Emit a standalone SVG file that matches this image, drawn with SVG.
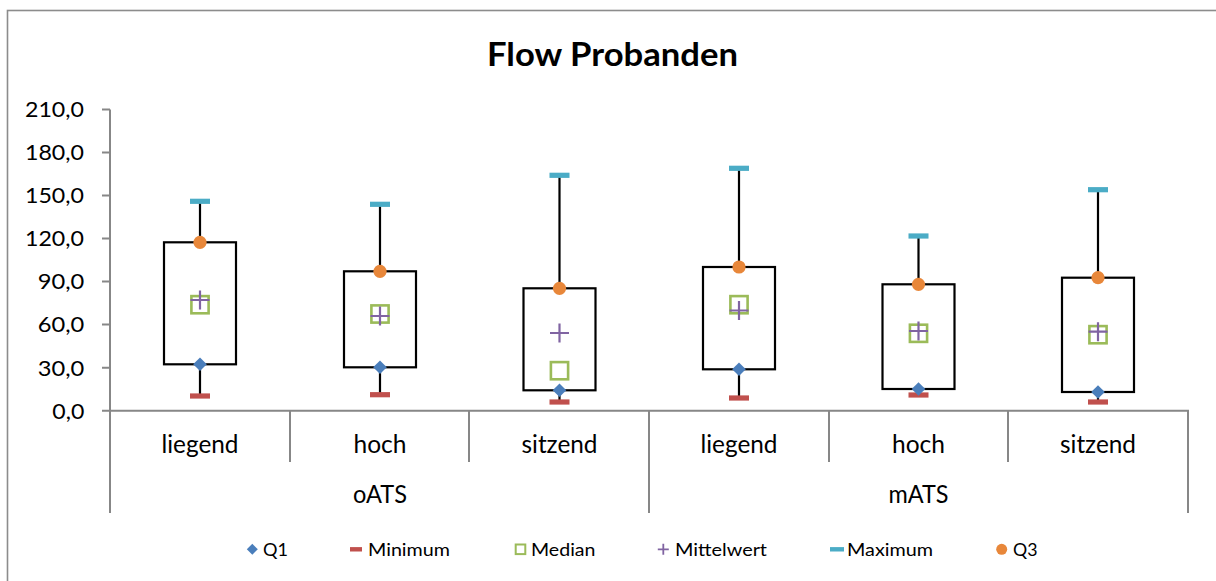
<svg xmlns="http://www.w3.org/2000/svg" width="1216" height="581" viewBox="0 0 1216 581">
  <style>
    .frame { fill: #ffffff; stroke: #8c8c8c; stroke-width: 1.6; }
    .axis { stroke: #878787; stroke-width: 2; fill: none; }
    .box { fill: none; stroke: #000000; stroke-width: 2.2; }
    .whisker { stroke: #000000; stroke-width: 2.2; }
    .lbl { font-family: Lato, "Liberation Sans", Arial, sans-serif; fill: #000000; }
    .ytick { font-size: 20.5px; }
    .cat { font-size: 24.5px; text-anchor: middle; }
    .leg { font-size: 17px; }
    .title { font-size: 32px; font-weight: bold; text-anchor: middle; }
  </style>
  <defs>
    <!-- series markers, centred on 0,0 -->
    <path id="m-q1" d="M0,-6.8 L6.8,0 L0,6.8 L-6.8,0 Z" fill="#4A7EBB"/>
    <rect id="m-min" x="-10" y="-2.6" width="20" height="5.2" fill="#C0504D"/>
    <rect id="m-median" x="-8.6" y="-8.6" width="17.2" height="17.2" fill="none" stroke="#9BBB59" stroke-width="2.6"/>
    <path id="m-mean" d="M-9.5,0 H9.5 M0,-9.5 V9.5" stroke="#8064A2" stroke-width="2.2" fill="none"/>
    <rect id="m-max" x="-10" y="-2.6" width="20" height="5.2" fill="#4BACC6"/>
    <circle id="m-q3" r="6.6" fill="#E8873A"/>
    <!-- smaller legend markers -->
    <path id="l-q1" d="M0,-5.5 L5.5,0 L0,5.5 L-5.5,0 Z" fill="#4A7EBB"/>
    <rect id="l-min" x="-6" y="-2.2" width="12" height="4.4" fill="#C0504D"/>
    <rect id="l-median" x="-4.8" y="-4.8" width="9.6" height="9.6" fill="none" stroke="#9BBB59" stroke-width="2"/>
    <path id="l-mean" d="M-5.5,0 H5.5 M0,-5.5 V5.5" stroke="#8064A2" stroke-width="1.8" fill="none"/>
    <rect id="l-max" x="-7" y="-2.2" width="14" height="4.4" fill="#4BACC6"/>
    <circle id="l-q3" r="5.5" fill="#E8873A"/>
  </defs>

  <!-- chart frame (continues past the right and bottom edge) -->
  <rect class="frame" x="7.5" y="10.5" width="1300" height="700"/>

  <!-- title -->
  <text class="lbl title" x="612.5" y="66" textLength="251" lengthAdjust="spacingAndGlyphs">Flow Probanden</text>

  <!-- axes -->
  <g id="axes">
    <path class="axis" d="M110,109.5 V513 M102,410.7 H1188 V513 M649,410.7 V513 M290,410.7 V462 M469,410.7 V462 M829,410.7 V462 M1008,410.7 V462"/>
    <path class="axis" d="M102,109.5 H110 M102,152.5 H110 M102,195.6 H110 M102,238.6 H110 M102,281.6 H110 M102,324.6 H110 M102,367.7 H110"/>
  </g>

  <!-- value axis labels -->
  <g id="y-labels">
    <text class="lbl ytick" x="25" y="117.3" textLength="59" lengthAdjust="spacingAndGlyphs">210,0</text>
    <text class="lbl ytick" x="25" y="160.3" textLength="59" lengthAdjust="spacingAndGlyphs">180,0</text>
    <text class="lbl ytick" x="25" y="203.4" textLength="59" lengthAdjust="spacingAndGlyphs">150,0</text>
    <text class="lbl ytick" x="25" y="246.4" textLength="59" lengthAdjust="spacingAndGlyphs">120,0</text>
    <text class="lbl ytick" x="37.7" y="289.4" textLength="46.6" lengthAdjust="spacingAndGlyphs">90,0</text>
    <text class="lbl ytick" x="37.7" y="332.4" textLength="46.6" lengthAdjust="spacingAndGlyphs">60,0</text>
    <text class="lbl ytick" x="37.7" y="375.5" textLength="46.6" lengthAdjust="spacingAndGlyphs">30,0</text>
    <text class="lbl ytick" x="52.3" y="418.5" textLength="32" lengthAdjust="spacingAndGlyphs">0,0</text>
  </g>

  <!-- category labels -->
  <g id="x-labels">
    <text class="lbl cat" x="200" y="453" textLength="77" lengthAdjust="spacingAndGlyphs">liegend</text>
    <text class="lbl cat" x="380" y="453" textLength="53" lengthAdjust="spacingAndGlyphs">hoch</text>
    <text class="lbl cat" x="559.5" y="453" textLength="76" lengthAdjust="spacingAndGlyphs">sitzend</text>
    <text class="lbl cat" x="739" y="453" textLength="77" lengthAdjust="spacingAndGlyphs">liegend</text>
    <text class="lbl cat" x="918.5" y="453" textLength="53" lengthAdjust="spacingAndGlyphs">hoch</text>
    <text class="lbl cat" x="1098" y="453" textLength="76" lengthAdjust="spacingAndGlyphs">sitzend</text>
    <text class="lbl cat" x="380" y="503" textLength="54" lengthAdjust="spacingAndGlyphs">oATS</text>
    <text class="lbl cat" x="918.5" y="503" textLength="60" lengthAdjust="spacingAndGlyphs">mATS</text>
  </g>

  <!-- box plots: whiskers, box, then markers -->
  <g id="box-oats-liegend">
    <path class="whisker" d="M200,201.3 V242.3 M200,364.3 V396"/>
    <rect class="box" x="164" y="242.3" width="72" height="122"/>
    <use href="#m-max" x="200" y="201.3"/>
    <use href="#m-min" x="200" y="396"/>
    <use href="#m-q3" x="200" y="242.3"/>
    <use href="#m-q1" x="200" y="364.3"/>
    <use href="#m-median" x="200" y="304.7"/>
    <use href="#m-mean" x="200" y="300"/>
  </g>
  <g id="box-oats-hoch">
    <path class="whisker" d="M380,204.3 V271.3 M380,367.3 V394.7"/>
    <rect class="box" x="344" y="271.3" width="72" height="96"/>
    <use href="#m-max" x="380" y="204.3"/>
    <use href="#m-min" x="380" y="394.7"/>
    <use href="#m-q3" x="380" y="271.3"/>
    <use href="#m-q1" x="380" y="367.3"/>
    <use href="#m-median" x="380" y="314"/>
    <use href="#m-mean" x="380" y="316"/>
  </g>
  <g id="box-oats-sitzend">
    <path class="whisker" d="M559.5,175.3 V288.3 M559.5,390.3 V402"/>
    <rect class="box" x="523.5" y="288.3" width="72" height="102"/>
    <use href="#m-max" x="559.5" y="175.3"/>
    <use href="#m-min" x="559.5" y="402"/>
    <use href="#m-q3" x="559.5" y="288.3"/>
    <use href="#m-q1" x="559.5" y="390.3"/>
    <use href="#m-median" x="559.5" y="370.7"/>
    <use href="#m-mean" x="559.5" y="333"/>
  </g>
  <g id="box-mats-liegend">
    <path class="whisker" d="M739,168.3 V267 M739,369.3 V398"/>
    <rect class="box" x="703" y="267" width="72" height="102.3"/>
    <use href="#m-max" x="739" y="168.3"/>
    <use href="#m-min" x="739" y="398"/>
    <use href="#m-q3" x="739" y="267"/>
    <use href="#m-q1" x="739" y="369.3"/>
    <use href="#m-median" x="739" y="304.7"/>
    <use href="#m-mean" x="739" y="310.5"/>
  </g>
  <g id="box-mats-hoch">
    <path class="whisker" d="M918.5,236 V284.3 M918.5,389 V395"/>
    <rect class="box" x="882.5" y="284.3" width="72" height="104.7"/>
    <use href="#m-max" x="918.5" y="236"/>
    <use href="#m-min" x="918.5" y="395"/>
    <use href="#m-q3" x="918.5" y="284.3"/>
    <use href="#m-q1" x="918.5" y="389"/>
    <use href="#m-median" x="918.5" y="333.3"/>
    <use href="#m-mean" x="918.5" y="331"/>
  </g>
  <g id="box-mats-sitzend">
    <path class="whisker" d="M1098,189.7 V277.7 M1098,392 V402"/>
    <rect class="box" x="1062" y="277.7" width="72" height="114.3"/>
    <use href="#m-max" x="1098" y="189.7"/>
    <use href="#m-min" x="1098" y="402"/>
    <use href="#m-q3" x="1098" y="277.7"/>
    <use href="#m-q1" x="1098" y="392"/>
    <use href="#m-median" x="1098" y="334.7"/>
    <use href="#m-mean" x="1098" y="331.7"/>
  </g>

  <!-- legend -->
  <g id="legend">
    <use href="#l-q1" x="252.3" y="549.3"/>
    <text class="lbl leg" x="263" y="556" textLength="25" lengthAdjust="spacingAndGlyphs">Q1</text>
    <use href="#l-min" x="356" y="549.3"/>
    <text class="lbl leg" x="368" y="556" textLength="82" lengthAdjust="spacingAndGlyphs">Minimum</text>
    <use href="#l-median" x="520.5" y="549.3"/>
    <text class="lbl leg" x="531" y="556" textLength="64.5" lengthAdjust="spacingAndGlyphs">Median</text>
    <use href="#l-mean" x="663.3" y="549.3"/>
    <text class="lbl leg" x="675" y="556" textLength="92" lengthAdjust="spacingAndGlyphs">Mittelwert</text>
    <use href="#l-max" x="837" y="549.3"/>
    <text class="lbl leg" x="847" y="556" textLength="86" lengthAdjust="spacingAndGlyphs">Maximum</text>
    <use href="#l-q3" x="1001.7" y="549.3"/>
    <text class="lbl leg" x="1013" y="556" textLength="24.5" lengthAdjust="spacingAndGlyphs">Q3</text>
  </g>
</svg>
